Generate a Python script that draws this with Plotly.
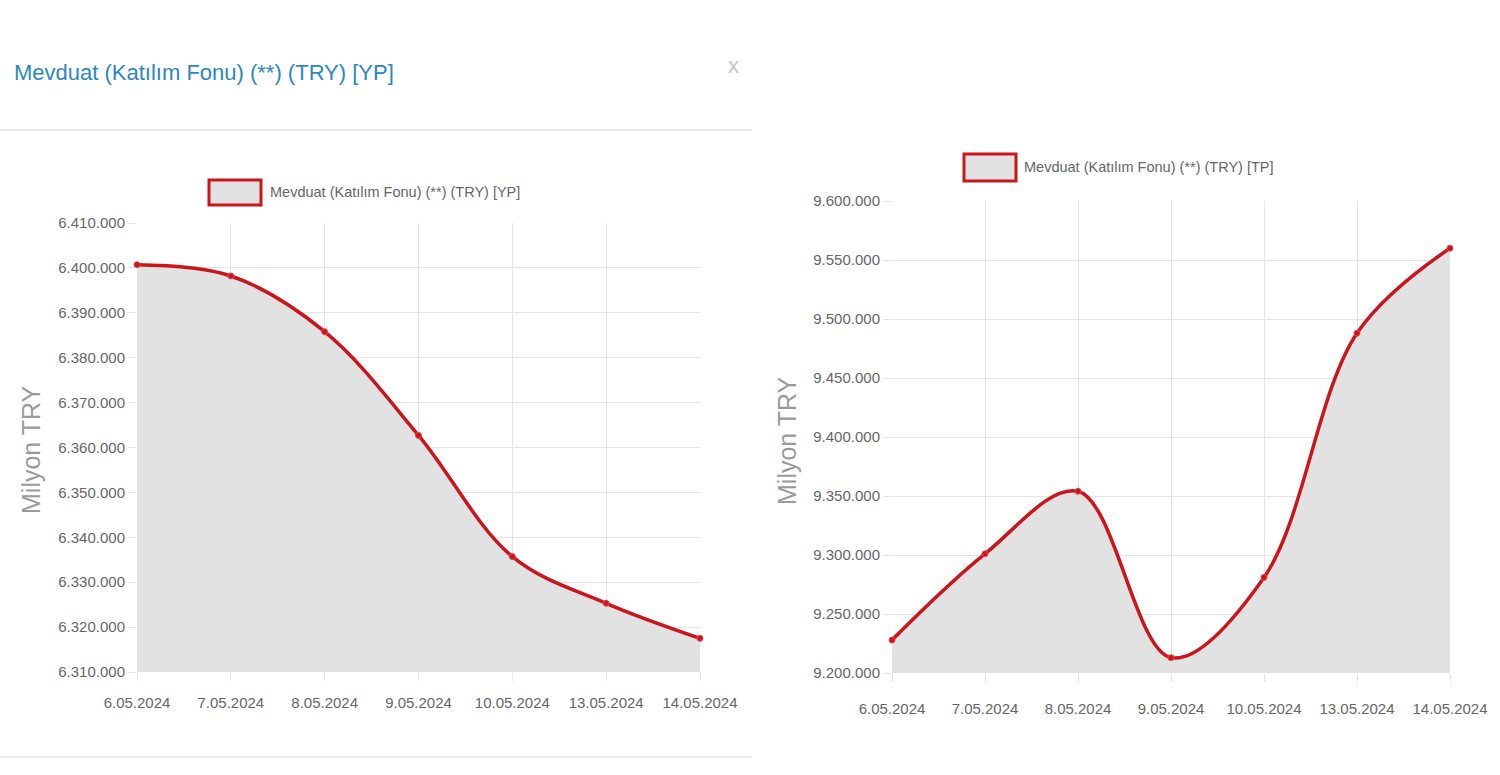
import plotly.graph_objects as go

# ---- data ----
dates = ["6.05.2024", "7.05.2024", "8.05.2024", "9.05.2024", "10.05.2024", "13.05.2024", "14.05.2024"]
yp_values = [6400700, 6398200, 6385800, 6362700, 6335700, 6325300, 6317500]
tp_values = [9228000, 9301000, 9354000, 9213000, 9281000, 9488000, 9560000]
yp_name = "Mevduat (Katılım Fonu) (**) (TRY) [YP]"
tp_name = "Mevduat (Katılım Fonu) (**) (TRY) [TP]"
modal_title = "Mevduat (Katılım Fonu) (**) (TRY) [YP]"
y_title = "Milyon TRY"

W, H = 1500, 775
def px(x): return x / W
def py(y): return 1 - y / H

FONT = "Liberation Sans, Arial, sans-serif"
RED = "#cc141c"
FILL = "rgba(224,224,224,0.95)"
GRID = "#e4e4e4"
TICKC = "#666666"

fig = go.Figure()
for vals, xa, ya, nm in [(yp_values, "x", "y", yp_name), (tp_values, "x2", "y2", tp_name)]:
    fig.add_trace(go.Scatter(
        x=dates, y=vals, xaxis=xa, yaxis=ya, name=nm,
        mode="lines+markers", fill="tozeroy", fillcolor=FILL,
        line=dict(color=RED, width=3.5, shape="spline", smoothing=1.0),
        marker=dict(size=6, color=RED, line=dict(color="#e8454b", width=1)),
        showlegend=False, cliponaxis=False,
    ))

axis_common = dict(
    showgrid=True, gridcolor=GRID, gridwidth=1, zeroline=False, showline=False,
    ticks="outside", ticklen=8, tickcolor=GRID, automargin=False,
    tickfont=dict(family=FONT, size=15, color=TICKC),
)

fig.update_layout(
    template="plotly_white",
    width=W, height=H, margin=dict(l=0, r=0, t=0, b=0, pad=0), autosize=False,
    paper_bgcolor="white", plot_bgcolor="white",
    separators=",.",
    xaxis=dict(domain=[px(137), px(700)], anchor="y", type="category", range=[0, 6],
               ticklabelstandoff=9, **axis_common),
    yaxis=dict(domain=[py(672), py(223)], anchor="x", range=[6310000, 6410000], dtick=10000,
               tickformat=",d", **axis_common),
    xaxis2=dict(domain=[px(892), px(1450)], anchor="y2", type="category", range=[0, 6],
                ticklabelstandoff=14, **axis_common),
    yaxis2=dict(domain=[py(673), py(201)], anchor="x2", range=[9200000, 9600000], dtick=50000,
                tickformat=",d", **axis_common),
)

shapes = [
    dict(type="line", xref="paper", yref="paper", x0=0, x1=px(752), y0=py(130), y1=py(130),
         line=dict(color="#ebebeb", width=2)),
    dict(type="line", xref="paper", yref="paper", x0=0, x1=px(752), y0=py(757), y1=py(757),
         line=dict(color="#ebebeb", width=2)),
    # legend boxes
    dict(type="rect", xref="paper", yref="paper", x0=px(209), x1=px(261), y0=py(205), y1=py(180),
         fillcolor="#e2e2e2", line=dict(color=RED, width=3)),
    dict(type="rect", xref="paper", yref="paper", x0=px(964), x1=px(1016), y0=py(181), y1=py(154),
         fillcolor="#e2e2e2", line=dict(color=RED, width=3)),
]
fig.update_layout(shapes=shapes)

annotations = [
    dict(text=modal_title, x=px(12), y=py(72), xref="paper", yref="paper", xanchor="left", yanchor="middle",
         showarrow=False, font=dict(family=FONT, size=22, color="#2b88bd")),
    dict(text="x", x=px(733), y=py(65), xref="paper", yref="paper", xanchor="center", yanchor="middle",
         showarrow=False, font=dict(family=FONT, size=22, color="#c4c4c4")),
    dict(text=yp_name, x=px(268), y=py(192), xref="paper", yref="paper", xanchor="left", yanchor="middle",
         showarrow=False, font=dict(family=FONT, size=14.5, color=TICKC)),
    dict(text=tp_name, x=px(1022), y=py(167), xref="paper", yref="paper", xanchor="left", yanchor="middle",
         showarrow=False, font=dict(family=FONT, size=14.5, color=TICKC)),
    dict(text=y_title, x=px(31), y=py(450), xref="paper", yref="paper", xanchor="center", yanchor="middle",
         textangle=-90, showarrow=False, font=dict(family=FONT, size=25, color="#9a9a9a")),
    dict(text=y_title, x=px(787), y=py(440), xref="paper", yref="paper", xanchor="center", yanchor="middle",
         textangle=-90, showarrow=False, font=dict(family=FONT, size=25, color="#9a9a9a")),
]
fig.update_layout(annotations=annotations)

fig.write_html("out.html")
